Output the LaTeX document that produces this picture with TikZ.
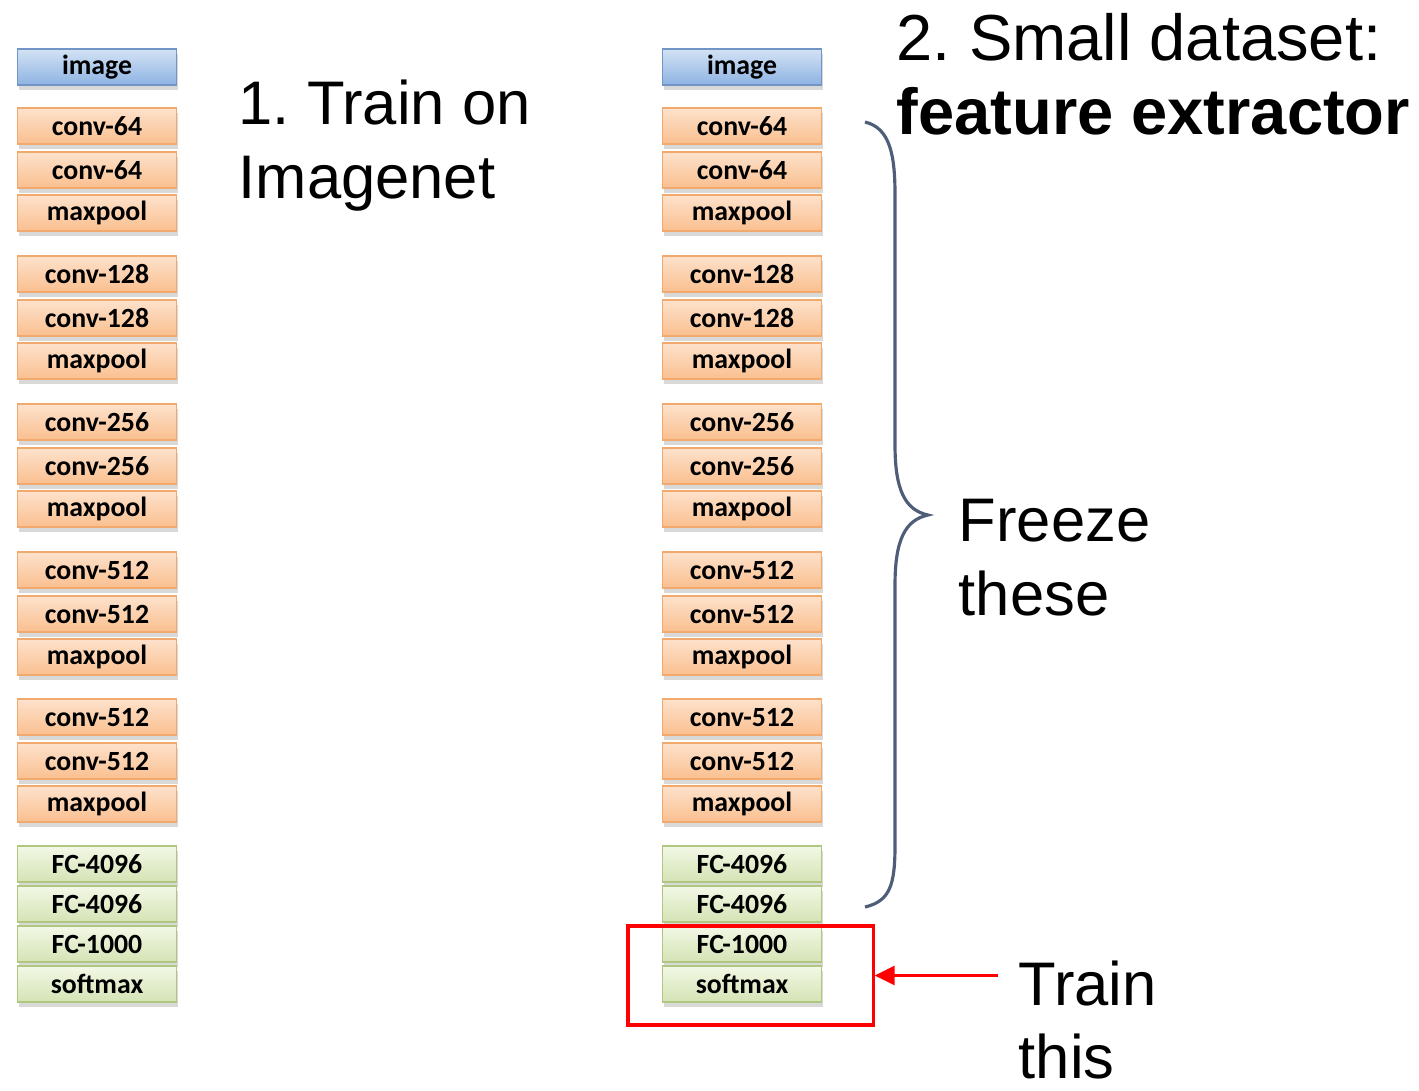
\documentclass[tikz,border=0pt]{standalone}
\usepackage{fontspec}
\setmainfont{Liberation Sans}
\newfontfamily\calibri{Carlito}
\usetikzlibrary{arrows.meta,shadows}

\definecolor{imgtop}{HTML}{D3E2F5}
\definecolor{imgbot}{HTML}{8DB3E2}
\definecolor{imgline}{HTML}{7295C6}
\definecolor{convtop}{HTML}{FDE2CC}
\definecolor{convbot}{HTML}{FABF8F}
\definecolor{convline}{HTML}{F2A96E}
\definecolor{fctop}{HTML}{F3F8E6}
\definecolor{fcbot}{HTML}{D4E3B5}
\definecolor{fcline}{HTML}{AFC77F}
\definecolor{bracecol}{HTML}{4E5D78}

\tikzset{
  layer/.style={draw, line width=0.4pt, minimum width=1.59cm, minimum height=0.36cm,
    inner sep=0pt, font=\calibri\bfseries\fontsize{7.9}{9}\selectfont,
    drop shadow={shadow xshift=0.5pt, shadow yshift=-1.3pt, opacity=0.3}},
  imgbox/.style={layer, draw=imgline, top color=imgtop, bottom color=imgbot},
  convbox/.style={layer, draw=convline, top color=convtop, bottom color=convbot},
  fcbox/.style={layer, draw=fcline, top color=fctop, bottom color=fcbot},
  note/.style={anchor=base west, inner sep=0pt, align=left,
    font=\fontsize{17.5}{21}\selectfont\frenchspacing},
}

\begin{document}
\begin{tikzpicture}[x=0.01cm, y=-0.01cm]
\useasboundingbox (0,0) rectangle (1419,1090);

% the two VGG stacks
\foreach \c/\x in {l/97, r/742} {
  \node[imgbox] (\c img) at (\x,67) {image};
  \node[convbox] (\c c1a) at (\x,126) {conv-64};
  \node[convbox] (\c c1b) at (\x,170) {conv-64};
  \node[convbox] (\c p1) at (\x,213) {maxpool};
  \node[convbox] (\c c2a) at (\x,274) {conv-128};
  \node[convbox] (\c c2b) at (\x,318) {conv-128};
  \node[convbox] (\c p2) at (\x,361) {maxpool};
  \node[convbox] (\c c3a) at (\x,422) {conv-256};
  \node[convbox] (\c c3b) at (\x,466) {conv-256};
  \node[convbox] (\c p3) at (\x,509) {maxpool};
  \node[convbox] (\c c4a) at (\x,570) {conv-512};
  \node[convbox] (\c c4b) at (\x,614) {conv-512};
  \node[convbox] (\c p4) at (\x,657) {maxpool};
  \node[convbox] (\c c5a) at (\x,717) {conv-512};
  \node[convbox] (\c c5b) at (\x,761) {conv-512};
  \node[convbox] (\c p5) at (\x,804) {maxpool};
  \node[fcbox] (\c fc1) at (\x,864) {FC-4096};
  \node[fcbox] (\c fc2) at (\x,904) {FC-4096};
  \node[fcbox] (\c fc3) at (\x,944) {FC-1000};
  \node[fcbox] (\c soft) at (\x,984) {softmax};
}

% labels (base = last line)
\node[note] (step1) at (238,198) {1. Train on\\Imagenet};
\node[note, font=\fontsize{18.5}{20.8}\selectfont\frenchspacing] (step2) at (896,134) {2. Small dataset:\\\textbf{feature extractor}};
\node[note] (freeze) at (958,615) {Freeze\\these};
\node[note, font=\fontsize{17.5}{20.5}\selectfont] (train) at (1018,1078) {Train\\this};

% brace over the frozen layers
\draw[bracecol, line width=0.9pt] (865,122) .. controls (890,128) and (895,155) .. (895,195)
  -- (895,445) .. controls (895,490) and (905,510) .. (928,515)
  .. controls (905,520) and (895,540) .. (895,585)
  -- (895,845) .. controls (895,885) and (890,901) .. (865,907);

% trained part
\node[draw=red, line width=0.9pt, minimum width=2.45cm, minimum height=0.99cm, inner sep=0pt] (trainbox) at (750.5,975.5) {};
\coordinate (arrowtail) at (998,975.5);
\draw[red, line width=0.8pt, -{Triangle[length=0.2cm, width=0.19cm]}] (arrowtail) -- (trainbox.east);
\end{tikzpicture}
\end{document}
